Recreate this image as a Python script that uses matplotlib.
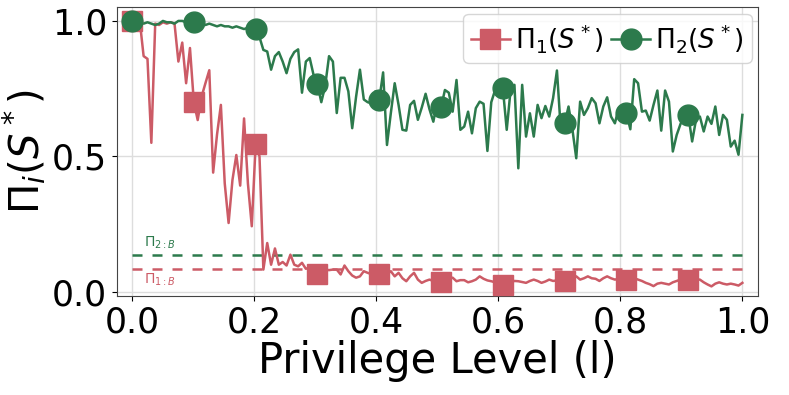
import numpy as np
import matplotlib
matplotlib.use('Agg')
import matplotlib.pyplot as plt
from matplotlib.lines import Line2D

# privilege levels: 159 samples on [0, 1], marker every 16th sample
privilege = np.linspace(0, 1, 159)
mark_step = 16

pi_1 = [
    1.0, 1.0, 1.0, 0.87, 0.86, 0.55, 0.99, 0.985, 0.995, 0.99, 0.995, 0.99, 0.85, 0.92, 0.77, 0.90,
    0.70, 0.634, 0.72, 0.77, 0.818, 0.44, 0.58, 0.69, 0.40, 0.254, 0.413, 0.505, 0.392, 0.64, 0.40, 0.242,
    0.545, 0.50, 0.082, 0.18, 0.10, 0.16, 0.10, 0.11, 0.097, 0.137, 0.10, 0.094, 0.107, 0.085, 0.09, 0.075,
    0.067, 0.08, 0.082, 0.08, 0.082, 0.082, 0.064, 0.097, 0.076, 0.06, 0.052, 0.057, 0.076, 0.07, 0.065, 0.07,
    0.067, 0.07, 0.065, 0.076, 0.057, 0.07, 0.05, 0.039, 0.057, 0.07, 0.045, 0.033, 0.04, 0.045, 0.04, 0.04,
    0.037, 0.045, 0.05, 0.052, 0.039, 0.043, 0.043, 0.035, 0.039, 0.045, 0.057, 0.048, 0.042, 0.039, 0.035, 0.03,
    0.025, 0.03, 0.035, 0.04, 0.039, 0.036, 0.033, 0.04, 0.045, 0.04, 0.033, 0.038, 0.045, 0.04, 0.042, 0.04,
    0.04, 0.045, 0.05, 0.057, 0.045, 0.05, 0.057, 0.05, 0.048, 0.04, 0.05, 0.057, 0.05, 0.045, 0.048, 0.045,
    0.045, 0.045, 0.05, 0.045, 0.04, 0.033, 0.028, 0.021, 0.03, 0.033, 0.03, 0.027, 0.035, 0.04, 0.045, 0.045,
    0.045, 0.045, 0.045, 0.045, 0.035, 0.027, 0.02, 0.03, 0.035, 0.03, 0.027, 0.03, 0.027, 0.023, 0.033,
]

pi_2 = [
    1.0, 1.0, 0.995, 0.99, 0.995, 0.99, 0.985, 0.99, 1.0, 0.995, 0.995, 0.99, 1.0, 1.0, 0.995, 0.99,
    0.995, 0.99, 0.99, 0.985, 0.99, 0.985, 0.98, 0.985, 0.98, 0.98, 0.975, 0.98, 0.975, 0.97, 0.975, 0.97,
    0.972, 0.94, 0.893, 0.887, 0.82, 0.87, 0.885, 0.85, 0.807, 0.86, 0.885, 0.895, 0.735, 0.85, 0.863, 0.80,
    0.766, 0.70, 0.76, 0.87, 0.85, 0.66, 0.79, 0.79, 0.74, 0.604, 0.72, 0.82, 0.71, 0.70, 0.696, 0.74,
    0.708, 0.81, 0.542, 0.66, 0.77, 0.69, 0.598, 0.595, 0.69, 0.705, 0.635, 0.68, 0.731, 0.674, 0.628, 0.70,
    0.681, 0.745, 0.735, 0.665, 0.782, 0.598, 0.61, 0.665, 0.585, 0.678, 0.702, 0.694, 0.52, 0.70, 0.745, 0.72,
    0.751, 0.598, 0.745, 0.764, 0.456, 0.764, 0.573, 0.659, 0.573, 0.69, 0.641, 0.686, 0.647, 0.715, 0.817, 0.598,
    0.622, 0.684, 0.60, 0.493, 0.702, 0.653, 0.678, 0.715, 0.696, 0.622, 0.684, 0.718, 0.647, 0.622, 0.678, 0.67,
    0.659, 0.60, 0.785, 0.77, 0.665, 0.669, 0.632, 0.69, 0.743, 0.595, 0.743, 0.702, 0.518, 0.579, 0.62, 0.647,
    0.653, 0.555, 0.635, 0.647, 0.592, 0.647, 0.62, 0.684, 0.579, 0.653, 0.635, 0.536, 0.558, 0.506, 0.653,
]

# baselines
pi_1_b = 0.085
pi_2_b = 0.137

red = '#cc5b66'
green = '#2c7a4c'

fig = plt.figure(figsize=(7.89, 3.95), dpi=100)
ax = fig.add_axes([0.148, 0.251, 0.813, 0.731])

ax.plot(privilege, pi_1, '-', color=red, lw=1.8, zorder=3)
ax.plot(privilege, pi_2, '-', color=green, lw=1.8, zorder=3)
ax.plot(privilege[::mark_step], pi_1[::mark_step], 's', color=red, ms=15, zorder=4)
ax.plot(privilege[::mark_step], pi_2[::mark_step], 'o', color=green, ms=15, zorder=4)

ax.plot([0, 1], [pi_2_b, pi_2_b], color=green, lw=1.8, dashes=(4, 4), zorder=2)
ax.plot([0, 1], [pi_1_b, pi_1_b], color=red, lw=1.8, dashes=(4, 4), zorder=2)
ax.text(0.02, pi_2_b + 0.012, r'$\Pi_{2:B}$', color=green, fontsize=10, va='bottom')
ax.text(0.02, pi_1_b - 0.012, r'$\Pi_{1:B}$', color=red, fontsize=10, va='top')

ax.set_xlim(-0.025, 1.026)
ax.set_ylim(-0.015, 1.051)
ax.set_xticks([0.0, 0.2, 0.4, 0.6, 0.8, 1.0])
ax.set_yticks([0.0, 0.5, 1.0])
ax.tick_params(labelsize=25)
ax.grid(color='#dddddd', lw=1)
ax.set_axisbelow(True)
for s in ax.spines.values():
    s.set_color('#444444')

ax.set_xlabel('Privilege Level (l)', fontsize=30, labelpad=0)
ax.set_ylabel(r'$\Pi_i(S^*)$', fontsize=29, labelpad=2)

handles = [
    Line2D([], [], color=red, marker='s', ms=15, lw=1.8),
    Line2D([], [], color=green, marker='o', ms=15, lw=1.8),
]
ax.legend(handles, [r'$\Pi_1(S^*)$', r'$\Pi_2(S^*)$'], loc='upper right', ncol=2,
          fontsize=19, handlelength=1.45, columnspacing=0.3, handletextpad=0.2,
          borderpad=0.3, borderaxespad=0.25)

fig.savefig('out.png', dpi=100)
